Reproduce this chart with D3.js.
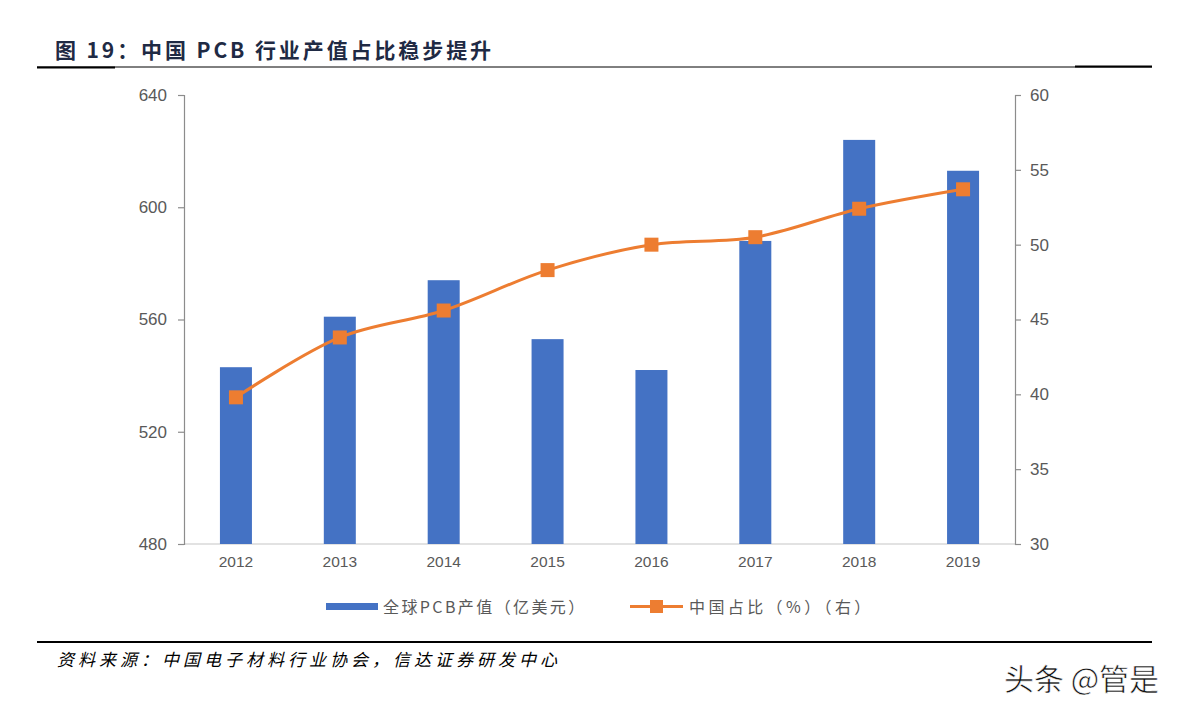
<!DOCTYPE html>
<html>
<head>
<meta charset="utf-8">
<script src="https://cdn.jsdelivr.net/npm/d3@7"></script>
<style>
  body { margin: 0; background: #fff; }
  svg { display: block; }
</style>
</head>
<body>
<svg id="chart"></svg>
<script>
// Data
const years = ["2012", "2013", "2014", "2015", "2016", "2017", "2018", "2019"];
const pcbValue = [543, 561, 574, 553, 542, 588, 624, 613];      // 亿美元, left axis
const chinaShare = [39.8, 43.8, 45.6, 48.3, 50.0, 50.5, 52.4, 53.7]; // %, right axis
const leftTicks = [480, 520, 560, 600, 640];
const rightTicks = [30, 35, 40, 45, 50, 55, 60];

const width = 1183, height = 702;
const margin = {left: 184, right: 168, top: 95, bottom: 158};
const font = "'Liberation Sans', Arial, 'Noto Sans CJK SC', sans-serif";
const cjk = "'Noto Sans CJK SC', 'Liberation Sans', sans-serif";
const barColor = "#4472C4", lineColor = "#ED7D31", tickColor = "#595959";

const svg = d3.select("#chart").attr("width", width).attr("height", height);

// Title and rules
svg.append("text")
   .attr("x", 55).attr("y", 58)
   .attr("font-family", cjk).attr("font-weight", "bold").attr("font-size", 21)
   .attr("letter-spacing", 2.9)
   .attr("fill", "#1F2A44")
   .text("图 19：中国 PCB 行业产值占比稳步提升");
svg.append("line").attr("x1", 37).attr("x2", 1152).attr("y1", 67).attr("y2", 67)
   .attr("stroke", "#000").attr("stroke-width", 1);
svg.append("line").attr("x1", 37).attr("x2", 115).attr("y1", 67.5).attr("y2", 67.5)
   .attr("stroke", "#000").attr("stroke-width", 2);
svg.append("line").attr("x1", 1075).attr("x2", 1152).attr("y1", 66.5).attr("y2", 66.5)
   .attr("stroke", "#000").attr("stroke-width", 2);

// Scales
const x = d3.scaleBand().domain(years)
            .range([margin.left, width - margin.right]);
const yL = d3.scaleLinear().domain([480, 640]).range([height - margin.bottom, margin.top]);
const yR = d3.scaleLinear().domain([30, 60]).range([height - margin.bottom, margin.top]);
const barW = 32;

// Bottom baseline
svg.append("line")
   .attr("x1", margin.left).attr("x2", width - margin.right)
   .attr("y1", yL(480)).attr("y2", yL(480))
   .attr("stroke", "#D9D9D9").attr("stroke-width", 1.5);

// Bars
svg.append("g")
   .selectAll("rect")
   .data(years)
   .join("rect")
   .attr("x", (d, i) => x(d) + x.bandwidth() / 2 - barW / 2)
   .attr("y", (d, i) => yL(pcbValue[i]))
   .attr("width", barW)
   .attr("height", (d, i) => yL(480) - yL(pcbValue[i]))
   .attr("fill", barColor);

// Axes
const styleAxis = g => {
    g.select(".domain").attr("stroke", "#8C8C8C").attr("stroke-width", 1.2);
    g.selectAll(".tick line").attr("stroke", "#8C8C8C").attr("stroke-width", 1.2);
    g.selectAll(".tick text").attr("fill", tickColor)
     .attr("font-family", font).attr("font-size", 17);
};
svg.append("g")
   .attr("transform", `translate(${margin.left},0)`)
   .call(d3.axisLeft(yL).tickValues(leftTicks).tickSize(6).tickSizeOuter(6).tickPadding(11))
   .call(styleAxis);
svg.append("g")
   .attr("transform", `translate(${width - margin.right},0)`)
   .call(d3.axisRight(yR).tickValues(rightTicks).tickSize(6).tickSizeOuter(6).tickPadding(9))
   .call(styleAxis);

const xAxis = svg.append("g")
   .attr("transform", `translate(0,${yL(480)})`)
   .call(d3.axisBottom(x).tickSize(0).tickPadding(12));
xAxis.select(".domain").remove();
xAxis.selectAll(".tick text").attr("fill", tickColor)
     .attr("font-family", font).attr("font-size", 15.5);

// Line
const line = d3.line()
   .x((d, i) => x(years[i]) + x.bandwidth() / 2)
   .y(d => yR(d))
   .curve(d3.curveCatmullRom.alpha(0.5));
svg.append("path")
   .datum(chinaShare)
   .attr("d", line)
   .attr("fill", "none")
   .attr("stroke", lineColor)
   .attr("stroke-width", 3);
svg.append("g")
   .selectAll("rect")
   .data(chinaShare)
   .join("rect")
   .attr("x", (d, i) => x(years[i]) + x.bandwidth() / 2 - 7)
   .attr("y", d => yR(d) - 7)
   .attr("width", 14).attr("height", 14)
   .attr("fill", lineColor);

// Legend
const legend = svg.append("g");
legend.append("rect").attr("x", 326).attr("y", 603).attr("width", 52).attr("height", 7)
      .attr("fill", barColor);
legend.append("text").attr("x", 383).attr("y", 613)
      .attr("font-family", cjk).attr("font-size", 16).attr("letter-spacing", 2.4)
      .attr("fill", tickColor)
      .text("全球PCB产值（亿美元）");
legend.append("line").attr("x1", 630).attr("x2", 683).attr("y1", 606.5).attr("y2", 606.5)
      .attr("stroke", lineColor).attr("stroke-width", 3);
legend.append("rect").attr("x", 650).attr("y", 600).attr("width", 13).attr("height", 13)
      .attr("fill", lineColor);
legend.append("text").attr("x", 689).attr("y", 613)
      .attr("font-family", cjk).attr("font-size", 16).attr("letter-spacing", 3.4)
      .attr("fill", tickColor)
      .text("中国占比（%）（右）");

// Source rule and note
svg.append("line").attr("x1", 37).attr("x2", 1152).attr("y1", 642).attr("y2", 642)
   .attr("stroke", "#000").attr("stroke-width", 2);
svg.append("text")
   .attr("x", 57).attr("y", 666)
   .attr("font-family", cjk).attr("font-size", 17).attr("font-style", "italic")
   .attr("letter-spacing", 4)
   .attr("fill", "#000")
   .text("资料来源：中国电子材料行业协会，信达证券研发中心");

// Watermark
svg.append("text")
   .attr("x", 1004).attr("y", 690)
   .attr("font-family", cjk).attr("font-size", 30)
   .attr("fill", "#111").attr("stroke", "#fff").attr("stroke-width", 0.6)
   .text("头条 @管是");
</script>
</body>
</html>
